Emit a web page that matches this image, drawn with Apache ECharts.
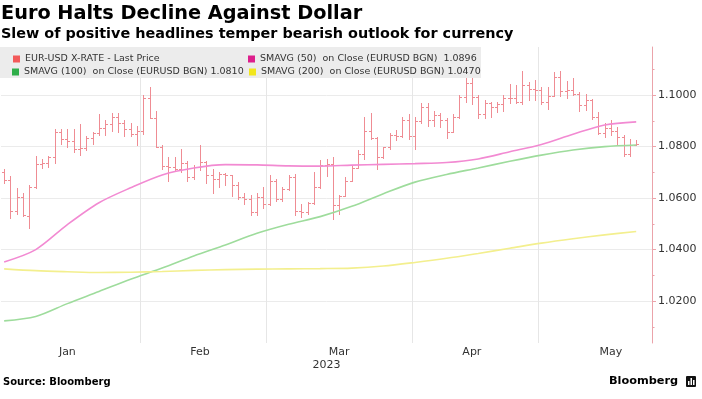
<!DOCTYPE html>
<html>
<head>
<meta charset="utf-8">
<script src="https://cdn.jsdelivr.net/npm/echarts@6/dist/echarts.min.js"></script>
<style>
html,body{margin:0;padding:0;background:#fff;}
#chart{width:702px;height:399px;}
</style>
</head>
<body>
<div id="chart"></div>
<script>
// ---- data ----
const dates = [
 '2023-01-02','2023-01-03','2023-01-04','2023-01-05','2023-01-06','2023-01-09','2023-01-10','2023-01-11','2023-01-12','2023-01-13',
 '2023-01-16','2023-01-17','2023-01-18','2023-01-19','2023-01-20','2023-01-23','2023-01-24','2023-01-25','2023-01-26','2023-01-27',
 '2023-01-30','2023-01-31',
 '2023-02-01','2023-02-02','2023-02-03','2023-02-06','2023-02-07','2023-02-08','2023-02-09','2023-02-10','2023-02-13','2023-02-14',
 '2023-02-15','2023-02-16','2023-02-17','2023-02-20','2023-02-21','2023-02-22','2023-02-23','2023-02-24','2023-02-27','2023-02-28',
 '2023-03-01','2023-03-02','2023-03-03','2023-03-06','2023-03-07','2023-03-08','2023-03-09','2023-03-10','2023-03-13','2023-03-14',
 '2023-03-15','2023-03-16','2023-03-17','2023-03-20','2023-03-21','2023-03-22','2023-03-23','2023-03-24','2023-03-27','2023-03-28',
 '2023-03-29','2023-03-30','2023-03-31',
 '2023-04-03','2023-04-04','2023-04-05','2023-04-06','2023-04-07','2023-04-10','2023-04-11','2023-04-12','2023-04-13','2023-04-14',
 '2023-04-17','2023-04-18','2023-04-19','2023-04-20','2023-04-21','2023-04-24','2023-04-25','2023-04-26','2023-04-27','2023-04-28',
 '2023-05-01','2023-05-02','2023-05-03','2023-05-04','2023-05-05','2023-05-08','2023-05-09','2023-05-10','2023-05-11','2023-05-12',
 '2023-05-15','2023-05-16','2023-05-17','2023-05-18','2023-05-19','2023-05-22',
 '2023-05-23','2023-05-24'
];

const openPx = [
 1.0700,1.0670,1.0550,1.0605,1.0530,1.0645,1.0732,1.0735,1.0760,1.0855,
 1.0830,1.0822,1.0790,1.0795,1.0832,1.0852,1.0872,1.0888,1.0915,1.0892,
 1.0870,1.0850,
 1.0862,1.0990,1.0912,1.0800,1.0725,1.0722,1.0712,1.0738,1.0680,1.0722,
 1.0742,1.0688,1.0675,1.0692,1.0688,1.0650,1.0605,1.0597,1.0546,1.0605,
 1.0578,1.0667,1.0597,1.0635,1.0682,1.0548,1.0545,1.0580,1.0642,1.0728,
 1.0732,1.0575,1.0610,1.0668,1.0718,1.0770,1.0860,1.0832,1.0760,1.0798,
 1.0845,1.0843,1.0905,
 1.0840,1.0898,1.0955,1.0905,1.0922,1.0905,1.0858,1.0915,1.0993,1.1046,
 1.0993,1.0925,1.0970,1.0955,1.0965,1.0990,1.0990,1.0975,1.1040,1.1025,
 1.1020,1.0975,1.0995,1.1072,1.1015,1.1018,1.1005,1.0962,1.0982,1.0915,
 1.0852,1.0872,1.0862,1.0838,1.0770,1.0805
];
const highPx = [
 1.0714,1.0685,1.0640,1.0620,1.0650,1.0762,1.0752,1.0765,1.0868,1.0868,
 1.0870,1.0870,1.0888,1.0840,1.0858,1.0928,1.0905,1.0930,1.0930,1.0905,
 1.0890,1.0880,
 1.1000,1.1032,1.0940,1.0805,1.0760,1.0760,1.0792,1.0745,1.0728,1.0805,
 1.0745,1.0712,1.0702,1.0698,1.0690,1.0662,1.0618,1.0612,1.0620,1.0645,
 1.0690,1.0675,1.0643,1.0690,1.0694,1.0578,1.0585,1.0700,1.0747,1.0750,
 1.0760,1.0612,1.0682,1.0727,1.0786,1.0916,1.0929,1.0838,1.0800,1.0851,
 1.0864,1.0916,1.0925,
 1.0915,1.0970,1.0970,1.0940,1.0930,1.0910,1.0925,1.1000,1.1065,1.1075,
 1.1000,1.0980,1.0975,1.0975,1.1000,1.1045,1.1040,1.1095,1.1050,1.1060,
 1.1030,1.1030,1.1090,1.1092,1.1055,1.1065,1.1012,1.1005,1.0985,1.0935,
 1.0890,1.0903,1.0877,1.0845,1.0830,1.0825
];
const lowPx = [
 1.0660,1.0522,1.0540,1.0530,1.0485,1.0640,1.0715,1.0720,1.0735,1.0810,
 1.0800,1.0778,1.0768,1.0785,1.0812,1.0845,1.0845,1.0862,1.0858,1.0842,
 1.0842,1.0805,
 1.0850,1.0910,1.0798,1.0712,1.0668,1.0705,1.0702,1.0665,1.0675,1.0708,
 1.0660,1.0618,1.0643,1.0650,1.0610,1.0598,1.0578,1.0535,1.0535,1.0560,
 1.0575,1.0590,1.0590,1.0630,1.0535,1.0525,1.0538,1.0578,1.0640,1.0685,
 1.0518,1.0540,1.0610,1.0668,1.0718,1.0753,1.0831,1.0714,1.0757,1.0792,
 1.0825,1.0838,1.0830,
 1.0790,1.0890,1.0880,1.0880,1.0875,1.0835,1.0855,1.0910,1.0975,1.0965,
 1.0910,1.0910,1.0915,1.0935,1.0940,1.0970,1.0970,1.0965,1.0980,1.0980,
 1.0965,1.0945,1.0995,1.0995,1.0990,1.1000,1.0940,1.0942,1.0908,1.0850,
 1.0838,1.0845,1.0812,1.0762,1.0762,1.0805
];
const closePx = [
 1.0670,1.0550,1.0605,1.0535,1.0645,1.0732,1.0735,1.0760,1.0855,1.0830,
 1.0822,1.0790,1.0795,1.0832,1.0852,1.0872,1.0888,1.0915,1.0892,1.0870,
 1.0850,1.0862,
 1.0990,1.0912,1.0800,1.0725,1.0722,1.0712,1.0738,1.0680,1.0722,1.0742,
 1.0688,1.0675,1.0692,1.0688,1.0650,1.0605,1.0597,1.0546,1.0605,1.0576,
 1.0667,1.0597,1.0635,1.0682,1.0548,1.0545,1.0580,1.0642,1.0728,1.0732,
 1.0575,1.0610,1.0668,1.0718,1.0770,1.0860,1.0832,1.0760,1.0798,1.0845,
 1.0843,1.0905,1.0840,
 1.0898,1.0955,1.0905,1.0922,1.0905,1.0858,1.0915,1.0993,1.1046,1.0993,
 1.0925,1.0970,1.0955,1.0965,1.0990,1.0990,1.0975,1.1040,1.1025,1.1020,
 1.0975,1.0995,1.1072,1.1015,1.1018,1.1005,1.0962,1.0982,1.0915,1.0852,
 1.0872,1.0862,1.0838,1.0770,1.0805,1.0812
];

// moving averages at weekly sample dates
const smaDates = ['2023-01-02','2023-01-09','2023-01-16','2023-01-23','2023-01-30','2023-02-06','2023-02-13','2023-02-20',
 '2023-02-27','2023-03-06','2023-03-13','2023-03-20','2023-03-27','2023-04-03','2023-04-10','2023-04-17','2023-04-24',
 '2023-05-01','2023-05-08','2023-05-15','2023-05-22'];
const sma50  = [1.0352,1.0400,1.0497,1.0582,1.0640,1.0690,1.0717,1.0730,1.0729,1.0725,1.0724,1.0728,1.0731,1.0734,1.0738,1.0752,1.0780,1.0808,1.0848,1.0884,1.0896];
const sma100 = [1.0123,1.0140,1.0190,1.0237,1.0285,1.0328,1.0375,1.0418,1.0463,1.0498,1.0528,1.0568,1.0617,1.0662,1.0692,1.0717,1.0743,1.0767,1.0787,1.0800,1.0806];
const sma200 = [1.0325,1.0318,1.0314,1.0311,1.0312,1.0315,1.0319,1.0322,1.0324,1.0325,1.0326,1.0328,1.0336,1.0350,1.0366,1.0385,1.0405,1.0425,1.0442,1.0457,1.0470];

const yTickLabels = [1.02, 1.04, 1.06, 1.08, 1.10];
const yMinorTicks = [1.01, 1.03, 1.05, 1.07, 1.09, 1.11];
const monthLabelDates = {'2023-01-16':'Jan','2023-02-14':'Feb','2023-03-16':'Mar','2023-04-14':'Apr','2023-05-16':'May'};
const yearLabelDate = '2023-03-14';
const yearLabel = '2023';

const names = [
 'EUR-USD X-RATE - Last Price',
 'SMAVG (50)  on Close (EURUSD BGN)  1.0896',
 'SMAVG (100)  on Close (EURUSD BGN) 1.0810',
 'SMAVG (200)  on Close (EURUSD BGN) 1.0470'
];

// ---- chart ----
const ohlc = openPx.map((o, i) => [i, o, highPx[i], lowPx[i], closePx[i]]);
const pair = (vals) => vals.map((v, i) => [smaDates[i], v]);
const barColor = '#ef8c93';
const axisFont = 'DejaVu Sans, Verdana, sans-serif';
const legFont = {fontFamily: axisFont, fontSize: 9.5, color: '#333', lineHeight: 12};

const chart = echarts.init(document.getElementById('chart'), null, {renderer: 'canvas'});

function legend(name, color, left, top) {
  return {
    data: [{name: name, icon: 'rect', itemStyle: {color: color}}],
    left: left, top: top, padding: 0, itemWidth: 7, itemHeight: 7,
    selectedMode: false, textStyle: legFont
  };
}

chart.setOption({
  animation: false,
  backgroundColor: '#ffffff',
  title: [
    {text: 'Euro Halts Decline Against Dollar', left: 1, top: 3, padding: 0,
     textStyle: {fontFamily: 'DejaVu Sans, sans-serif', fontSize: 19.3, lineHeight: 22, fontWeight: 'bold', color: '#000'}},
    {text: 'Slew of positive headlines temper bearish outlook for currency', left: 1, top: 26, padding: 0,
     textStyle: {fontFamily: 'DejaVu Sans, sans-serif', fontSize: 14.4, lineHeight: 16, fontWeight: 'bold', color: '#000'}},
    {text: 'Source: Bloomberg', left: 3, top: 376, padding: 0,
     textStyle: {fontFamily: 'DejaVu Sans, sans-serif', fontSize: 10, lineHeight: 12, fontWeight: 'bold', color: '#000'}},
    {text: 'Bloomberg', left: 609, top: 374, padding: 0,
     textStyle: {fontFamily: 'DejaVu Sans, sans-serif', fontSize: 11.3, lineHeight: 14, fontWeight: 'bold', color: '#000'}}
  ],
  graphic: [
    {type: 'rect', left: 0, top: 47, shape: {width: 481, height: 31}, style: {fill: '#ececec'}, z: 3},
    {type: 'group', left: 4, top: 55, z: 5, children: [
      {type: 'line', shape: {x1: 2.5, y1: 0, x2: 2.5, y2: 7}, style: {stroke: barColor, lineWidth: 1}},
      {type: 'line', shape: {x1: 0, y1: 1.5, x2: 2.5, y2: 1.5}, style: {stroke: barColor, lineWidth: 1}},
      {type: 'line', shape: {x1: 2.5, y1: 3.5, x2: 5, y2: 3.5}, style: {stroke: barColor, lineWidth: 1}}
    ]},
    {type: 'group', left: 686, top: 376, z: 6, children: [
      {type: 'rect', z: 1, shape: {x: 0, y: 0, width: 10, height: 11, r: 1}, style: {fill: '#111'}},
      {type: 'rect', z: 2, shape: {x: 2, y: 5, width: 1.5, height: 4}, style: {fill: '#fff'}},
      {type: 'rect', z: 2, shape: {x: 4.5, y: 2, width: 1.5, height: 7}, style: {fill: '#fff'}},
      {type: 'rect', z: 2, shape: {x: 7, y: 4, width: 1.5, height: 5}, style: {fill: '#fff'}}
    ]}
  ],
  legend: [
    legend(names[0], '#f25a5a', 13, 53),
    legend(names[1], '#dd1f8c', 248, 53),
    legend(names[2], '#2fae4a', 12, 66),
    legend(names[3], '#f2e61c', 249, 66)
  ],
  grid: {left: 1, right: 50, top: 47, bottom: 56, containLabel: false},
  xAxis: [
    {
      type: 'category', data: dates, boundaryGap: true,
      axisLine: {show: false}, axisTick: {show: false},
      splitLine: {show: true, interval: (i) => i > 0 && i < 101 && dates[i].slice(5, 7) !== dates[i - 1].slice(5, 7),
                  lineStyle: {color: '#e6e6e6', width: 1}},
      axisLabel: {interval: (i, v) => monthLabelDates[v] !== undefined, formatter: (v) => monthLabelDates[v] || '',
                  fontFamily: axisFont, fontSize: 11, color: '#333', margin: 4}
    },
    {
      type: 'category', data: dates, boundaryGap: true, position: 'bottom', offset: 0,
      axisLine: {show: false}, axisTick: {show: false}, splitLine: {show: false},
      axisLabel: {interval: (i, v) => v === yearLabelDate, formatter: (v) => v === yearLabelDate ? yearLabel : '',
                  fontFamily: axisFont, fontSize: 11, color: '#333', margin: 17}
    }
  ],
  yAxis: [
    {
      type: 'value', position: 'right', min: 1.0037, max: 1.1187, scale: true,
      axisLine: {show: true, lineStyle: {color: '#eba3aa', width: 1}},
      axisTick: {show: true, length: 4, customValues: yTickLabels, lineStyle: {color: '#eba3aa'}},
      axisLabel: {customValues: yTickLabels, formatter: (v) => v.toFixed(4), fontFamily: axisFont, fontSize: 11, color: '#333', margin: 6},
      splitLine: {show: true, lineStyle: {color: '#ebebeb', width: 1}}
    },
    {
      type: 'value', position: 'right', min: 1.0037, max: 1.1187, scale: true,
      axisLine: {show: false},
      axisTick: {show: true, length: 2.5, customValues: yMinorTicks, lineStyle: {color: '#eba3aa'}},
      axisLabel: {show: false}, splitLine: {show: false}
    }
  ],
  series: [
    {
      name: names[0], type: 'custom', data: ohlc, encode: {x: 0, y: [1, 2, 3, 4]}, z: 2,
      itemStyle: {color: barColor},
      renderItem: function (params, api) {
        const i = api.value(0);
        const o = api.coord([i, api.value(1)]);
        const h = api.coord([i, api.value(2)]);
        const l = api.coord([i, api.value(3)]);
        const c = api.coord([i, api.value(4)]);
        const x = Math.round(h[0]) + 0.5;
        const st = {stroke: barColor, lineWidth: 1};
        return {type: 'group', children: [
          {type: 'line', shape: {x1: x, y1: Math.round(h[1]), x2: x, y2: Math.round(l[1]) + 1}, style: st},
          {type: 'line', shape: {x1: x - 2.5, y1: Math.round(o[1]) + 0.5, x2: x, y2: Math.round(o[1]) + 0.5}, style: st},
          {type: 'line', shape: {x1: x, y1: Math.round(c[1]) + 0.5, x2: x + 2.5, y2: Math.round(c[1]) + 0.5}, style: st}
        ]};
      }
    },
    {name: names[1], type: 'line', data: pair(sma50), smooth: 0.3, showSymbol: false, z: 3,
     lineStyle: {color: '#f28ad2', width: 1.6}, itemStyle: {color: '#f28ad2'}},
    {name: names[2], type: 'line', data: pair(sma100), smooth: 0.3, showSymbol: false, z: 3,
     lineStyle: {color: '#9edc9c', width: 1.6}, itemStyle: {color: '#9edc9c'}},
    {name: names[3], type: 'line', data: pair(sma200), smooth: 0.3, showSymbol: false, z: 3,
     lineStyle: {color: '#f3ef8e', width: 1.6}, itemStyle: {color: '#f3ef8e'}}
  ]
});
</script>
</body>
</html>
